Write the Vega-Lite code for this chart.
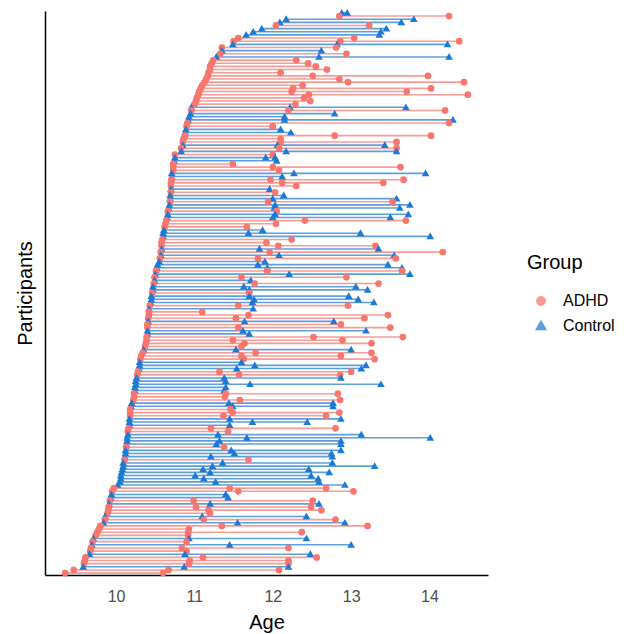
{
"$schema": "https://vega.github.io/schema/vega-lite/v6.json",
"width": 443, "height": 564,
"autosize": {"type": "none"},
"padding": {"left": 45, "top": 11, "right": 140, "bottom": 59},
"data": {"values": [
{"p":179,"g":"Control","a":12.88,"b":12.95},
{"p":178,"g":"ADHD","a":12.85,"b":14.25},
{"p":177,"g":"Control","a":12.17,"b":13.80},
{"p":176,"g":"Control","a":12.09,"b":13.64},
{"p":175,"g":"ADHD","a":12.04,"b":13.23},
{"p":174,"g":"Control","a":11.86,"b":13.45},
{"p":173,"g":"Control","a":11.75,"b":13.38},
{"p":172,"g":"Control","a":11.66,"b":13.36},
{"p":171,"g":"ADHD","a":11.56,"b":13.04},
{"p":170,"g":"ADHD","a":11.50,"b":12.86,"c":14.38},
{"p":169,"g":"Control","a":11.49,"b":12.82,"c":14.23},
{"p":168,"g":"ADHD","a":11.35,"b":12.81},
{"p":167,"g":"Control","a":11.35,"b":12.62},
{"p":166,"g":"ADHD","a":11.33,"b":12.94},
{"p":165,"g":"Control","a":11.28,"b":12.59,"c":14.25},
{"p":164,"g":"ADHD","a":11.24,"b":12.30},
{"p":163,"g":"ADHD","a":11.22,"b":12.45},
{"p":162,"g":"ADHD","a":11.20,"b":12.55},
{"p":161,"g":"ADHD","a":11.20,"b":12.69},
{"p":160,"g":"ADHD","a":11.18,"b":12.10},
{"p":159,"g":"ADHD","a":11.17,"b":12.51,"c":13.98},
{"p":158,"g":"ADHD","a":11.15,"b":12.85},
{"p":157,"g":"ADHD","a":11.13,"b":12.96,"c":14.44},
{"p":156,"g":"ADHD","a":11.10,"b":12.38},
{"p":155,"g":"ADHD","a":11.08,"b":12.26,"c":14.02},
{"p":154,"g":"ADHD","a":11.06,"b":12.24,"c":13.71},
{"p":153,"g":"ADHD","a":11.05,"b":12.46,"c":14.49},
{"p":152,"g":"ADHD","a":11.03,"b":12.40},
{"p":151,"g":"ADHD","a":11.02,"b":12.48},
{"p":150,"g":"ADHD","a":11.00,"b":12.29},
{"p":149,"g":"Control","a":10.96,"b":12.22,"c":13.70},
{"p":148,"g":"ADHD","a":10.96,"b":12.20,"c":14.20},
{"p":147,"g":"Control","a":10.95,"b":12.79},
{"p":146,"g":"Control","a":10.93,"b":12.15},
{"p":145,"g":"Control","a":10.92,"b":12.15,"c":14.30},
{"p":144,"g":"ADHD","a":10.91,"b":14.25},
{"p":143,"g":"ADHD","a":10.90,"b":12.00},
{"p":142,"g":"Control","a":10.89,"b":12.10},
{"p":141,"g":"Control","a":10.88,"b":12.23},
{"p":140,"g":"ADHD","a":10.88,"b":12.79,"c":14.02},
{"p":139,"g":"ADHD","a":10.86,"b":12.10},
{"p":138,"g":"ADHD","a":10.85,"b":12.10,"c":13.58},
{"p":137,"g":"Control","a":10.85,"b":12.06,"c":13.43},
{"p":136,"g":"ADHD","a":10.83,"b":12.08,"c":13.58},
{"p":135,"g":"Control","a":10.83,"b":12.17,"c":13.58},
{"p":134,"g":"ADHD","a":10.75,"b":12.00},
{"p":133,"g":"Control","a":10.75,"b":11.91,"c":12.03},
{"p":132,"g":"Control","a":10.74,"b":12.05},
{"p":131,"g":"ADHD","a":10.73,"b":11.49},
{"p":130,"g":"ADHD","a":10.73,"b":12.00,"c":13.63},
{"p":129,"g":"ADHD","a":10.73,"b":12.08},
{"p":128,"g":"Control","a":10.71,"b":12.27,"c":13.95},
{"p":127,"g":"Control","a":10.71,"b":12.12},
{"p":126,"g":"ADHD","a":10.71,"b":11.97,"c":13.67},
{"p":125,"g":"ADHD","a":10.70,"b":12.12,"c":13.41},
{"p":124,"g":"ADHD","a":10.70,"b":12.30},
{"p":123,"g":"Control","a":10.70,"b":11.96},
{"p":122,"g":"ADHD","a":10.70,"b":12.03},
{"p":121,"g":"Control","a":10.69,"b":12.14},
{"p":120,"g":"Control","a":10.69,"b":12.00,"c":13.58},
{"p":119,"g":"ADHD","a":10.69,"b":11.94,"c":13.53},
{"p":118,"g":"Control","a":10.68,"b":12.03,"c":13.75},
{"p":117,"g":"Control","a":10.67,"b":12.02,"c":13.62},
{"p":116,"g":"ADHD","a":10.66,"b":12.05},
{"p":115,"g":"Control","a":10.66,"b":12.03,"c":13.73},
{"p":114,"g":"Control","a":10.65,"b":12.00,"c":13.50},
{"p":113,"g":"ADHD","a":10.64,"b":12.41,"c":13.70},
{"p":112,"g":"ADHD","a":10.63,"b":12.04},
{"p":111,"g":"ADHD","a":10.62,"b":11.67},
{"p":110,"g":"Control","a":10.61,"b":11.87},
{"p":109,"g":"Control","a":10.60,"b":11.69,"c":13.12},
{"p":108,"g":"Control","a":10.60,"b":14.01},
{"p":107,"g":"ADHD","a":10.59,"b":12.24},
{"p":106,"g":"ADHD","a":10.58,"b":11.92},
{"p":105,"g":"ADHD","a":10.58,"b":12.07,"c":13.31},
{"p":104,"g":"Control","a":10.58,"b":11.83,"c":13.35},
{"p":103,"g":"ADHD","a":10.57,"b":11.96,"c":14.17},
{"p":102,"g":"Control","a":10.57,"b":12.08,"c":13.55},
{"p":101,"g":"ADHD","a":10.56,"b":11.81,"c":13.57},
{"p":100,"g":"Control","a":10.55,"b":11.90},
{"p":99,"g":"Control","a":10.53,"b":11.81,"c":13.47},
{"p":98,"g":"Control","a":10.52,"b":11.93,"c":13.65},
{"p":97,"g":"ADHD","a":10.51,"b":11.93,"c":13.65},
{"p":96,"g":"Control","a":10.50,"b":12.21,"c":13.75},
{"p":95,"g":"ADHD","a":10.49,"b":11.60,"c":12.94},
{"p":94,"g":"Control","a":10.49,"b":11.72},
{"p":93,"g":"ADHD","a":10.48,"b":11.77,"c":13.35},
{"p":92,"g":"Control","a":10.47,"b":11.63,"c":13.06},
{"p":91,"g":"Control","a":10.47,"b":11.70,"c":13.21},
{"p":90,"g":"ADHD","a":10.46,"b":11.70},
{"p":89,"g":"Control","a":10.45,"b":11.70,"c":12.97},
{"p":88,"g":"Control","a":10.45,"b":11.76,"c":13.09},
{"p":87,"g":"Control","a":10.44,"b":11.74,"c":13.29},
{"p":86,"g":"ADHD","a":10.43,"b":11.56,"c":12.96},
{"p":85,"g":"Control","a":10.42,"b":11.75},
{"p":84,"g":"ADHD","a":10.42,"b":11.10},
{"p":83,"g":"ADHD","a":10.42,"b":11.69,"c":13.47},
{"p":82,"g":"ADHD","a":10.41,"b":11.53,"c":13.17},
{"p":81,"g":"Control","a":10.41,"b":11.64,"c":12.78},
{"p":80,"g":"ADHD","a":10.40,"b":12.87},
{"p":79,"g":"ADHD","a":10.40,"b":11.56,"c":13.50},
{"p":78,"g":"Control","a":10.40,"b":11.62,"c":13.19},
{"p":77,"g":"Control","a":10.40,"b":11.70},
{"p":76,"g":"ADHD","a":10.39,"b":12.52,"c":13.66},
{"p":75,"g":"ADHD","a":10.39,"b":11.49,"c":12.89},
{"p":74,"g":"ADHD","a":10.38,"b":11.64,"c":13.26},
{"p":73,"g":"ADHD","a":10.37,"b":11.60},
{"p":72,"g":"Control","a":10.35,"b":11.53,"c":13.00},
{"p":71,"g":"ADHD","a":10.34,"b":11.78,"c":13.26},
{"p":70,"g":"ADHD","a":10.32,"b":11.60,"c":12.87},
{"p":69,"g":"ADHD","a":10.31,"b":11.63,"c":13.30},
{"p":68,"g":"Control","a":10.30,"b":11.60},
{"p":67,"g":"Control","a":10.30,"b":11.77,"c":13.19},
{"p":66,"g":"Control","a":10.29,"b":11.54,"c":13.13},
{"p":65,"g":"ADHD","a":10.28,"b":11.32,"c":13.00},
{"p":64,"g":"ADHD","a":10.27,"b":11.57,"c":12.86},
{"p":63,"g":"Control","a":10.26,"b":11.38,"c":12.87},
{"p":62,"g":"Control","a":10.25,"b":11.40},
{"p":61,"g":"Control","a":10.25,"b":11.71,"c":13.38},
{"p":60,"g":"Control","a":10.24,"b":11.40},
{"p":59,"g":"Control","a":10.24,"b":11.38},
{"p":58,"g":"ADHD","a":10.23,"b":11.40,"c":12.83},
{"p":57,"g":"ADHD","a":10.23,"b":11.39},
{"p":56,"g":"ADHD","a":10.22,"b":11.58,"c":12.86},
{"p":55,"g":"Control","a":10.20,"b":11.44,"c":12.77},
{"p":54,"g":"Control","a":10.19,"b":11.49,"c":12.77},
{"p":53,"g":"ADHD","a":10.18,"b":11.46},
{"p":52,"g":"ADHD","a":10.18,"b":11.49,"c":12.85},
{"p":51,"g":"ADHD","a":10.18,"b":11.37,"c":12.68},
{"p":50,"g":"Control","a":10.17,"b":11.45,"c":12.87},
{"p":49,"g":"Control","a":10.17,"b":11.74,"c":12.44},
{"p":48,"g":"Control","a":10.17,"b":11.45},
{"p":47,"g":"ADHD","a":10.16,"b":11.21,"c":12.80},
{"p":46,"g":"ADHD","a":10.15,"b":11.43},
{"p":45,"g":"Control","a":10.15,"b":11.30,"c":13.13},
{"p":44,"g":"Control","a":10.14,"b":11.67,"c":14.01},
{"p":43,"g":"Control","a":10.14,"b":11.32,"c":12.87},
{"p":42,"g":"Control","a":10.13,"b":11.28,"c":12.87},
{"p":41,"g":"ADHD","a":10.13,"b":11.38},
{"p":40,"g":"Control","a":10.12,"b":11.47,"c":12.87},
{"p":39,"g":"Control","a":10.12,"b":11.51,"c":12.75},
{"p":38,"g":"Control","a":10.11,"b":11.21,"c":12.76},
{"p":37,"g":"ADHD","a":10.11,"b":11.69},
{"p":36,"g":"Control","a":10.09,"b":11.36,"c":12.76},
{"p":35,"g":"Control","a":10.09,"b":11.23,"c":13.30},
{"p":34,"g":"Control","a":10.08,"b":11.11,"c":12.46},
{"p":33,"g":"Control","a":10.07,"b":11.20,"c":12.72},
{"p":32,"g":"Control","a":10.06,"b":11.01,"c":12.49},
{"p":31,"g":"Control","a":10.06,"b":11.12,"c":12.58},
{"p":30,"g":"Control","a":10.05,"b":11.27,"c":12.59},
{"p":29,"g":"Control","a":10.02,"b":12.92},
{"p":28,"g":"ADHD","a":9.97,"b":11.45,"c":12.68},
{"p":27,"g":"ADHD","a":9.95,"b":11.56,"c":13.03},
{"p":26,"g":"Control","a":9.94,"b":11.40},
{"p":25,"g":"Control","a":9.93,"b":11.43},
{"p":24,"g":"ADHD","a":9.92,"b":10.99,"c":12.51},
{"p":23,"g":"Control","a":9.91,"b":11.20,"c":12.59},
{"p":22,"g":"ADHD","a":9.91,"b":11.02,"c":12.49},
{"p":21,"g":"ADHD","a":9.90,"b":11.18,"c":12.62},
{"p":20,"g":"ADHD","a":9.89,"b":11.20},
{"p":19,"g":"Control","a":9.86,"b":11.10,"c":12.43},
{"p":18,"g":"ADHD","a":9.86,"b":11.12,"c":12.80},
{"p":17,"g":"Control","a":9.84,"b":11.55,"c":12.92},
{"p":16,"g":"ADHD","a":9.80,"b":11.35,"c":13.21},
{"p":15,"g":"ADHD","a":9.78,"b":10.93},
{"p":14,"g":"ADHD","a":9.76,"b":10.92,"c":12.37},
{"p":13,"g":"ADHD","a":9.74,"b":10.92},
{"p":12,"g":"Control","a":9.71,"b":10.93,"c":12.43},
{"p":11,"g":"ADHD","a":9.70,"b":10.90},
{"p":10,"g":"Control","a":9.69,"b":11.45,"c":13.00},
{"p":9,"g":"ADHD","a":9.68,"b":10.84,"c":12.20},
{"p":8,"g":"ADHD","a":9.67,"b":10.90},
{"p":7,"g":"Control","a":9.66,"b":10.88,"c":12.48},
{"p":6,"g":"ADHD","a":9.61,"b":11.11,"c":12.56},
{"p":5,"g":"ADHD","a":9.60,"b":10.94,"c":12.20},
{"p":4,"g":"ADHD","a":9.59,"b":10.93,"c":12.20},
{"p":3,"g":"Control","a":9.58,"b":10.87,"c":12.20},
{"p":2,"g":"ADHD","a":9.46,"b":10.67,"c":12.08},
{"p":1,"g":"ADHD","a":9.35,"b":10.60}
]},
"encoding": {
  "y": {"field": "p", "type": "quantitative",
    "scale": {"domain": [0.4, 179.6], "nice": false, "zero": false},
    "axis": {"title": "Participants", "ticks": false, "labels": false, "grid": false,
      "domainColor": "black", "domainWidth": 1.5, "titleFontSize": 20, "titleFontWeight": "normal",
      "titleColor": "black", "titlePadding": 10}}
},
"layer": [
  {"mark": {"type": "rule", "strokeWidth": 1.6, "opacity": 0.72},
   "encoding": {
     "x": {"field": "a", "type": "quantitative",
       "scale": {"domain": [9.093, 14.747], "nice": false, "zero": false},
       "axis": {"title": "Age", "values": [10, 11, 12, 13, 14], "format": "d", "ticks": false, "grid": false,
         "domainColor": "black", "domainWidth": 1.5, "labelFontSize": 16, "labelColor": "#4D4D4D",
         "labelPadding": 13, "titleFontSize": 20, "titleFontWeight": "normal", "titleColor": "black", "titlePadding": 8}},
     "x2": {"field": "b"},
     "color": {"field": "g", "type": "nominal", "title": "Group", "scale": {"domain": ["ADHD", "Control"], "range": ["#F8766D", "#1C7AD6"]}}
   }},
  {"transform": [{"filter": "isValid(datum.c)"}],
   "mark": {"type": "rule", "strokeWidth": 1.6, "opacity": 0.72},
   "encoding": {
     "x": {"field": "b", "type": "quantitative", "title": "Age"},
     "x2": {"field": "c"},
     "color": {"field": "g", "type": "nominal", "title": "Group"}
   }},
  {"transform": [{"fold": ["a", "b", "c"], "as": ["k", "age"]}, {"filter": "isValid(datum.age)"}],
   "mark": {"type": "point", "filled": true, "opacity": 1, "size": 45},
   "encoding": {
     "x": {"field": "age", "type": "quantitative", "title": "Age"},
     "color": {"field": "g", "type": "nominal", "title": "Group",
       "legend": {"orient": "none", "legendX": 482, "legendY": 242}},
     "shape": {"field": "g", "type": "nominal", "title": "Group", "scale": {"domain": ["ADHD", "Control"], "range": ["circle", "M-1.15,0.85L1.15,0.85L0,-1.15Z"]},
       "legend": {"orient": "none", "legendX": 482, "legendY": 242}}
   }}
],
"config": {"view": {"stroke": null}, "font": "Liberation Sans",
  "legend": {"offset": 39, "padding": 0,
    "titleFontSize": 20, "titleFontWeight": "normal", "titleColor": "black", "titlePadding": 20,
    "labelFontSize": 16, "labelColor": "black", "symbolSize": 70, "rowPadding": 9, "labelOffset": 14, "symbolOffset": 6}}
}
